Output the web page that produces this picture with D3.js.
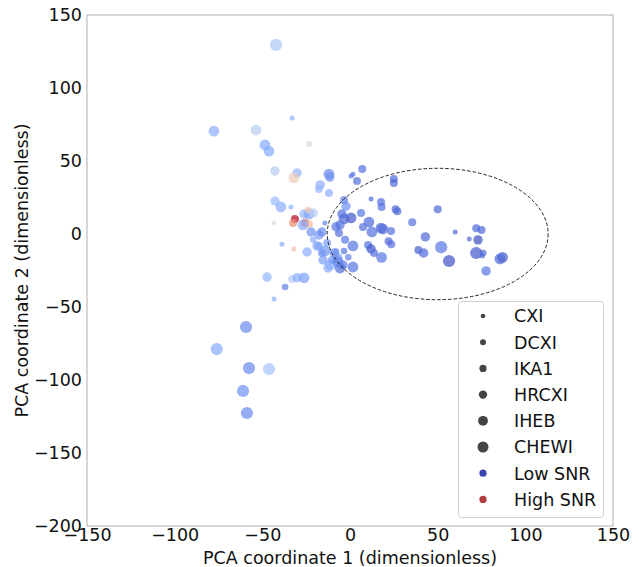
<!DOCTYPE html>
<html><head><meta charset="utf-8">
<script src="https://cdn.jsdelivr.net/npm/d3@7"></script>
<style>body{margin:0;background:#fff}svg{display:block;font-family:"DejaVu Sans",sans-serif}</style>
</head><body><svg id="c" width="639" height="567"></svg>
<script>
const pcaX = [-42.2,-77.6,-53.6,-33,-23.4,-48.5,-46.2,-42.8,-30.2,-32,-12,-11.5,-17,-17.7,-12,-42.8,-39.4,-33.7,-3.4,-2.3,0.6,1.7,4,7,12,17.7,18,25,25,26,27,50,35.5,60,72,75,68,73,43,22,23.5,52,39,42,18,72,76,75.5,87,85.5,56.5,77.6,23.4,17.7,18.8,12.5,10.8,7.4,6.3,0.6,-3.4,-5.7,-6.3,-2.8,1.7,-3.4,10.3,12,13.7,1.7,-7.4,-4,-5.7,-11.4,-10.3,-15.4,-16,-13,-17.7,-17.7,-16,-21,-14.3,-22.2,-24.5,-38.8,-32,-43.3,-31.4,-32.5,-25.7,-23.4,-26.8,-26.2,-23.4,-21,-24,-47.3,-33,-30.2,-26.2,-37,-43.3,-59.3,-76,-57.6,-46.2,-61,-58.8,-8,-4.6,-1,-8,-14.3,-6.8,-12.5,-18.8,-9];
const pcaY = [129.5,70.5,71.2,79.5,61.6,61,56.8,43.2,41.8,38.4,41,39,33.6,30.8,28,22.6,18.5,18.5,23.3,19,39.7,41,36.3,44.5,24,21.9,18.5,37.7,35,17,15.5,17,8,1.4,4,2.7,-3.4,-4,-2,-5,-7,-9,-11,-13,-16,-13,-13,-15,-16,-17,-18.5,-25.3,2,4,3.4,1.4,8.2,4.8,14.4,11,10.3,6.2,0.7,-4,-8.2,-11.6,-7.5,-10.3,-13,-22.6,-16.4,-21.2,-23.3,-21.2,-17.8,-17.8,-13,-6.2,-8.2,-0.7,1.4,-4,7.5,1.4,-12.3,-7,-10.3,7.5,10.3,7.5,7.5,6.8,6.2,13.7,13.7,14.4,16.4,-29.5,-30.8,-30,-30,-36.3,-44.5,-63.7,-78.8,-91.8,-92.5,-107.5,-122.6,5,13.7,-16,-12,-11.6,-19,-23.3,-8.2,-13];
const sizeIdx = [5,4,4,0,1,4,4,3,3,4,4,3,3,2,2,3,4,0,2,3,0,0,2,2,0,2,2,2,2,2,2,2,2,0,2,2,0,3,3,2,2,5,2,3,4,5,1,0,4,4,5,3,2,4,4,4,4,2,2,4,4,3,2,2,4,1,2,3,2,4,4,3,4,4,2,3,2,2,2,3,3,1,0,3,3,0,0,0,2,2,2,2,4,3,4,3,1,3,2,3,4,1,0,5,5,5,5,5,5,3,3,1,1,4,4,3,3,3];
const snrValue = [0.40,0.30,0.42,0.32,0.50,0.28,0.28,0.42,0.32,0.58,0.18,0.20,0.30,0.33,0.30,0.35,0.30,0.30,0.15,0.20,0.12,0.12,0.10,0.10,0.08,0.10,0.10,0.08,0.08,0.08,0.08,0.08,0.10,0.08,0.08,0.08,0.08,0.00,0.08,0.08,0.10,0.12,0.05,0.08,0.12,0.03,0.08,0.08,0.05,0.08,0.02,0.12,0.10,0.08,0.10,0.10,0.08,0.10,0.12,0.03,0.08,0.12,0.10,0.12,0.12,0.12,0.12,0.02,0.10,0.12,0.25,0.15,0.10,0.30,0.22,0.25,0.20,0.25,0.28,0.22,0.18,0.30,0.15,0.20,0.30,0.30,0.62,0.50,1.00,0.78,0.90,0.65,0.30,0.32,0.25,0.42,0.60,0.33,0.42,0.30,0.25,0.15,0.30,0.18,0.28,0.18,0.38,0.20,0.18,0.12,0.10,0.15,0.20,0.22,0.15,0.30,0.25,0.20];
const sizeLabels = ["CXI","DCXI","IKA1","HRCXI","IHEB","CHEWI"];
const snrLabels = ["Low SNR","High SNR"];
const xTicks = [-150,-100,-50,0,50,100,150];
const yTicks = [-200,-150,-100,-50,0,50,100,150];
const ellipseCenter = [50,0], ellipseRadii = [63,45];

const svg = d3.select("#c");
const L=87,T=15,R=613,B=526;
const FS = "17.5px";
const x = d3.scaleLinear().domain([-150,150]).range([L,R]);
const y = d3.scaleLinear().domain([-200,150]).range([B,T]);
const rad = d3.scaleOrdinal().domain(d3.range(6)).range([2.5,3.3,4.0,4.7,5.4,6.1]);
const legRad = d3.scaleOrdinal().domain(d3.range(6)).range([2.3,3.0,3.6,4.2,4.9,5.5]);
const cw = d3.scaleLinear().domain([0,0.125,0.25,0.375,0.5,0.625,0.75,0.875,1])
  .range(["#3b4cc0","#5a78e4","#7ca1fa","#a2c1fe","#dddddd","#f6c1a7","#f49a7b","#de6550","#b40426"])
  .interpolate(d3.interpolateRgb);
const fmt = d => d<0 ? "\u2212"+Math.abs(d) : ""+d;

const data = pcaX.map((v,i)=>({x:v,y:pcaY[i],s:sizeIdx[i],c:snrValue[i]}));
svg.append("g").selectAll("circle").data(data).join("circle")
  .attr("cx",d=>x(d.x)).attr("cy",d=>y(d.y)).attr("r",d=>rad(d.s))
  .attr("fill",d=>cw(d.c)).attr("fill-opacity",0.7);

svg.append("ellipse").attr("cx",x(ellipseCenter[0])).attr("cy",y(ellipseCenter[1]))
  .attr("rx",x(ellipseRadii[0])-x(0)).attr("ry",y(0)-y(ellipseRadii[1]))
  .attr("fill","none").attr("stroke","#222").attr("stroke-width",1).attr("stroke-dasharray","3.5,2");

svg.append("rect").attr("x",L).attr("y",T).attr("width",R-L).attr("height",B-T)
  .attr("fill","none").attr("stroke","#b0b0b0").attr("stroke-width",1);

const xa = svg.append("g").attr("transform",`translate(0,${B})`)
  .call(d3.axisBottom(x).tickValues(xTicks).tickFormat(fmt).tickSize(0).tickPadding(3));
const ya = svg.append("g").attr("transform",`translate(${L},0)`)
  .call(d3.axisLeft(y).tickValues(yTicks).tickFormat(fmt).tickSize(0).tickPadding(5));
[xa,ya].forEach(a=>{a.select(".domain").remove();a.selectAll("text").attr("font-size",FS).attr("fill","#111").attr("font-family","DejaVu Sans");});

svg.append("text").attr("x",(L+R)/2).attr("y",564).attr("text-anchor","middle")
  .attr("font-size",FS).attr("fill","#111").text("PCA coordinate 1 (dimensionless)");
svg.append("text").attr("transform",`translate(28,${(T+B)/2}) rotate(-90)`).attr("text-anchor","middle")
  .attr("font-size",FS).attr("fill","#111").text("PCA coordinate 2 (dimensionless)");

const lg = svg.append("g");
lg.append("rect").attr("x",458.5).attr("y",301.5).attr("width",145).attr("height",216).attr("rx",3)
  .attr("fill","#fff").attr("fill-opacity",0.9).attr("stroke","#d0d0d0");
const items = sizeLabels.map((t,i)=>({t,r:legRad(i),col:"#444"}))
  .concat([{t:snrLabels[0],r:3.6,col:"#3a44ad"},{t:snrLabels[1],r:3.6,col:"#b03c3c"}]);
items.forEach((d,i)=>{
  const cy = 316 + i*26.2;
  lg.append("circle").attr("cx",483).attr("cy",cy).attr("r",d.r).attr("fill",d.col);
  lg.append("text").attr("x",514).attr("y",cy).attr("dy","0.36em").attr("font-size",FS).attr("fill","#111").text(d.t);
});
</script></body></html>
